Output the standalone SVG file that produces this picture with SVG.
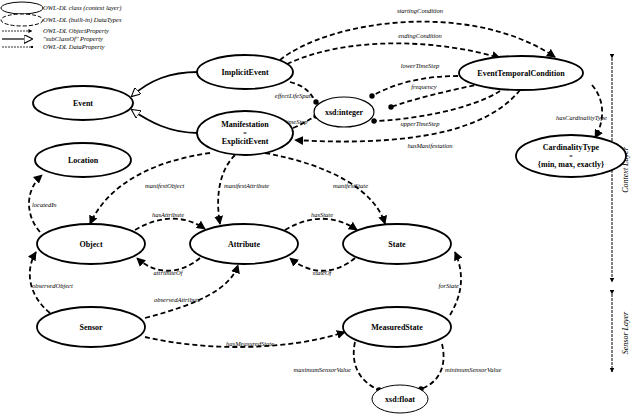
<svg xmlns="http://www.w3.org/2000/svg" width="640" height="414" viewBox="0 0 640 414">
<style>
.n{fill:#fff;stroke:#000;stroke-width:1.8}
.d{fill:#fff;stroke:#000;stroke-width:1;stroke-dasharray:4 2}
.t{font-family:"Liberation Serif",serif;font-weight:bold;font-size:8px;text-anchor:middle}
.q{font-family:"Liberation Serif",serif;font-size:6px;text-anchor:middle}
.l{font-family:"Liberation Serif",serif;font-style:italic;font-size:6.5px}
.e{fill:none;stroke:#000;stroke-width:1.8;stroke-dasharray:5 3}
.dp{fill:none;stroke:#000;stroke-width:1.8;stroke-dasharray:5 3}
.s{fill:none;stroke:#000;stroke-width:1.8}
</style>
<defs>
<marker id="a" viewBox="0 0 10 10" refX="9" refY="5" markerWidth="5" markerHeight="5" orient="auto"><path d="M0,0L10,5L0,10z"/></marker>
<marker id="h" viewBox="0 0 10 10" refX="9" refY="5" markerWidth="9" markerHeight="9" orient="auto" markerUnits="userSpaceOnUse"><path d="M0,0L10,5L0,10z" fill="#fff" stroke="#000" stroke-width="1.2"/></marker>
<marker id="o" viewBox="0 0 10 10" refX="5" refY="5" markerWidth="3" markerHeight="3"><circle cx="5" cy="5" r="5"/></marker>
</defs>
<g id="legend">
<ellipse cx="22" cy="8" rx="21" ry="6" class="n" style="stroke-width:1"/>
<ellipse cx="22" cy="20" rx="21" ry="6" class="d"/>
<line x1="2" y1="31" x2="32" y2="31" stroke="#000" stroke-width="0.8" stroke-dasharray="2 1" marker-end="url(#a)"/>
<line x1="2" y1="39" x2="32" y2="39" stroke="#000" stroke-width="1.2" marker-end="url(#h)"/>
<line x1="2" y1="47" x2="32" y2="47" stroke="#000" stroke-width="0.8" stroke-dasharray="2 1" marker-end="url(#o)"/>
<text class="l" x="43" y="10">OWL-DL class (context layer)</text>
<text class="l" x="43" y="22">OWL-DL (built-in) DataTypes</text>
<text class="l" x="43" y="33">OWL-DL ObjectProperty</text>
<text class="l" x="43" y="41">"subClassOf" Property</text>
<text class="l" x="43" y="49">OWL-DL DataProperty</text>
</g>
<g id="connectors">
<path class="s" d="M198,72 C170,72 150,80 132,96" marker-end="url(#h)"/>
<path class="s" d="M198,133 C170,133 150,122 132,110" marker-end="url(#h)"/>
<path class="e" d="M280,60 C330,20 470,0 555,57" marker-end="url(#a)"/>
<path class="e" d="M287,64 C350,35 440,40 500,58" marker-end="url(#a)"/>
<path class="dp" d="M290,82 C305,86 310,92 316,102" marker-end="url(#o)"/>
<path class="dp" d="M293,128 C303,124 308,120 316,116" marker-end="url(#o)"/>
<path class="dp" d="M490,78 C440,72 400,80 372,96" marker-end="url(#o)"/>
<path class="dp" d="M490,82 C450,90 410,100 391,107" marker-end="url(#o)"/>
<path class="dp" d="M500,91 C470,110 410,120 374,121" marker-end="url(#o)"/>
<path class="e" d="M520,90 C480,140 380,145 295,140" marker-end="url(#a)"/>
<path class="e" d="M592,85 C605,100 605,120 595,138" marker-end="url(#a)"/>
<path class="e" d="M210,153 C160,160 110,180 90,224" marker-end="url(#a)"/>
<path class="e" d="M235,155 C220,170 215,195 220,224" marker-end="url(#a)"/>
<path class="e" d="M265,153 C330,165 375,190 385,224" marker-end="url(#a)"/>
<path class="e" d="M40,232 C25,215 25,190 42,175" marker-end="url(#a)"/>
<path class="e" d="M135,230 C160,215 185,215 205,229" marker-end="url(#a)"/>
<path class="e" d="M200,258 C180,275 155,275 137,258" marker-end="url(#a)"/>
<path class="e" d="M285,230 C310,215 335,215 357,230" marker-end="url(#a)"/>
<path class="e" d="M355,258 C335,275 310,275 290,258" marker-end="url(#a)"/>
<path class="e" d="M50,313 C28,295 25,270 36,252" marker-end="url(#a)"/>
<path class="e" d="M145,318 C195,305 230,290 238,265" marker-end="url(#a)"/>
<path class="e" d="M145,337 C210,352 290,350 345,332" marker-end="url(#a)"/>
<path class="e" d="M450,315 C462,295 465,275 455,252" marker-end="url(#a)"/>
<path class="dp" d="M355,342 C350,365 360,382 379,390" marker-end="url(#o)"/>
<path class="dp" d="M442,344 C447,365 440,382 421,389" marker-end="url(#o)"/>
<line x1="612" y1="58" x2="612" y2="282" stroke="#000" stroke-width="1" stroke-dasharray="3 1" marker-start="url(#a)" marker-end="url(#a)"/>
<line x1="612" y1="294" x2="612" y2="372" stroke="#000" stroke-width="1" stroke-dasharray="3 1" marker-start="url(#a)" marker-end="url(#a)"/>
</g>
<g id="labels">
<text class="l" x="420" y="13" text-anchor="middle">startingCondition</text>
<text class="l" x="420" y="38" text-anchor="middle">endingCondition</text>
<text class="l" x="312" y="98" text-anchor="end">effectLifeSpan</text>
<text class="l" x="285" y="124">timeStep</text>
<text class="l" x="420" y="68" text-anchor="middle">lowerTimeStep</text>
<text class="l" x="424" y="89" text-anchor="middle">frequency</text>
<text class="l" x="420" y="126" text-anchor="middle">upperTimeStep</text>
<text class="l" x="430" y="148" text-anchor="middle">hasManifestation</text>
<text class="l" x="607" y="120" text-anchor="end">hasCardinalityType</text>
<text class="l" x="145" y="188">manifestObject</text>
<text class="l" x="224" y="188">manifestAttribute</text>
<text class="l" x="333" y="188">manifestState</text>
<text class="l" x="32" y="207">locatedIn</text>
<text class="l" x="168" y="217" text-anchor="middle">hasAttribute</text>
<text class="l" x="168" y="275" text-anchor="middle">attributeOf</text>
<text class="l" x="322" y="217" text-anchor="middle">hasState</text>
<text class="l" x="322" y="275" text-anchor="middle">stateOf</text>
<text class="l" x="32" y="288">observedObject</text>
<text class="l" x="154" y="302">observedAttribute</text>
<text class="l" x="250" y="346" text-anchor="middle">hasMeasuredState</text>
<text class="l" x="459" y="288" text-anchor="end">forState</text>
<text class="l" x="351" y="372" text-anchor="end">maximumSensorValue</text>
<text class="l" x="445" y="372">minimumSensorValue</text>
<text class="l" x="628" y="170" text-anchor="middle" transform="rotate(-90 628 170)" style="font-size:8px">Context Layer</text>
<text class="l" x="628" y="333" text-anchor="middle" transform="rotate(-90 628 333)" style="font-size:8px">Sensor Layer</text>
</g>
<g id="ImplicitEvent"><ellipse cx="245" cy="72" rx="48" ry="17" class="n"/><text class="t" x="245" y="75">ImplicitEvent</text></g>
<g id="Event"><ellipse cx="83" cy="103" rx="50" ry="17" class="n"/><text class="t" x="83" y="106">Event</text></g>
<g id="Manifestation"><ellipse cx="245" cy="133" rx="48" ry="22" class="n"/><text class="t" x="245" y="127">Manifestation</text><text class="q" x="245" y="135">≡</text><text class="t" x="245" y="144">ExplicitEvent</text></g>
<g id="xsdinteger"><ellipse cx="344" cy="112" rx="30" ry="15" class="n" style="stroke-width:1.2"/><text class="t" x="344" y="115">xsd:integer</text></g>
<g id="EventTemporalCondition"><ellipse cx="521" cy="73" rx="62" ry="17" class="n"/><text class="t" x="521" y="76">EventTemporalCondition</text></g>
<g id="CardinalityType"><ellipse cx="571" cy="156" rx="55" ry="21" class="n"/><text class="t" x="571" y="150">CardinalityType</text><text class="q" x="571" y="158">≡</text><text class="t" x="571" y="167">{min, max, exactly}</text></g>
<g id="Location"><ellipse cx="83" cy="160" rx="48" ry="17" class="n"/><text class="t" x="83" y="163">Location</text></g>
<g id="Object"><ellipse cx="91" cy="244" rx="54" ry="20" class="n"/><text class="t" x="91" y="247">Object</text></g>
<g id="Attribute"><ellipse cx="244" cy="244" rx="54" ry="20" class="n"/><text class="t" x="244" y="247">Attribute</text></g>
<g id="State"><ellipse cx="397" cy="244" rx="54" ry="20" class="n"/><text class="t" x="397" y="247">State</text></g>
<g id="Sensor"><ellipse cx="91" cy="327" rx="54" ry="20" class="n"/><text class="t" x="91" y="330">Sensor</text></g>
<g id="MeasuredState"><ellipse cx="397" cy="327" rx="54" ry="20" class="n"/><text class="t" x="397" y="330">MeasuredState</text></g>
<g id="xsdfloat"><ellipse cx="400" cy="399" rx="28" ry="14" class="n" style="stroke-width:1"/><text class="t" x="400" y="402">xsd:float</text></g>
</svg>
